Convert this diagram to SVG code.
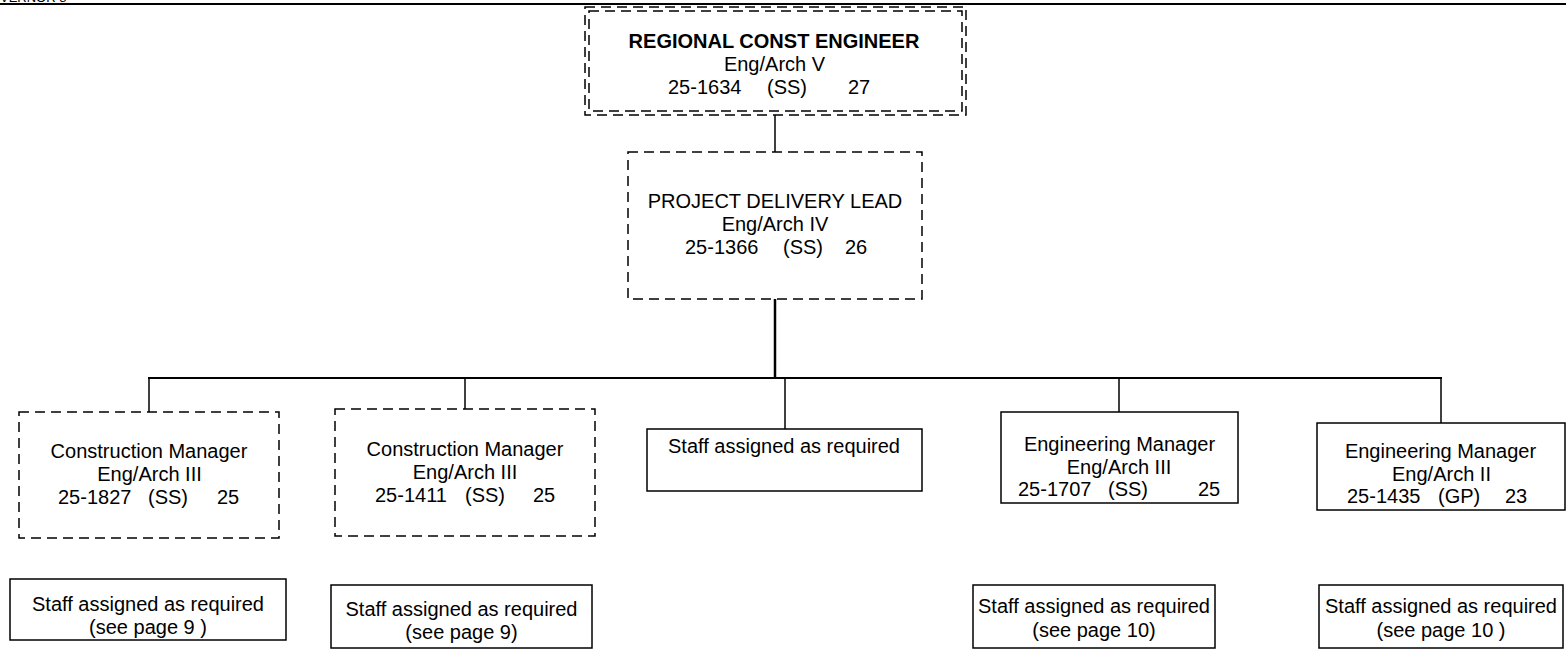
<svg xmlns="http://www.w3.org/2000/svg" width="1566" height="649" viewBox="0 0 1566 649">
<style>
text{font-family:"Liberation Sans",Arial,sans-serif;font-size:20px;fill:#000}
.b{font-weight:bold}
.m{text-anchor:middle}
.dash{fill:#fff;stroke:#000;stroke-width:1.5;stroke-dasharray:10 6}
.solid{fill:#fff;stroke:#000;stroke-width:1.5}
.conn{stroke:#000;fill:none}
</style>
<rect width="1566" height="649" fill="#fff"/>
<text x="0" y="2" style="font-size:13px">VERNOR 8</text>
<line x1="0" y1="4" x2="1566" y2="4" stroke="#000" stroke-width="2"/>
<g id="connectors">
<line class="conn" x1="775" y1="115" x2="775" y2="152" stroke-width="1.5"/>
<line class="conn" x1="775" y1="299" x2="775" y2="378" stroke-width="2.5"/>
<line class="conn" x1="148" y1="378" x2="1442" y2="378" stroke-width="2"/>
<line class="conn" x1="149" y1="378" x2="149" y2="412" stroke-width="1.5"/>
<line class="conn" x1="465" y1="378" x2="465" y2="409" stroke-width="1.5"/>
<line class="conn" x1="785" y1="378" x2="785" y2="429" stroke-width="1.5"/>
<line class="conn" x1="1119" y1="378" x2="1119" y2="412" stroke-width="1.5"/>
<line class="conn" x1="1441" y1="378" x2="1441" y2="423" stroke-width="1.5"/>
</g>
<g id="regional-const-engineer">
<rect class="dash" x="585" y="7" width="381" height="108"/>
<rect class="dash" x="589" y="11" width="373" height="100" fill="none"/>
<text class="b m" x="774" y="48">REGIONAL CONST ENGINEER</text>
<text class="m" x="774.5" y="71">Eng/Arch V</text>
<text y="94"><tspan x="668">25-1634</tspan><tspan x="767">(SS)</tspan><tspan x="848">27</tspan></text>
</g>
<g id="project-delivery-lead">
<rect class="dash" x="628" y="152" width="294" height="147"/>
<text class="m" x="775" y="208">PROJECT DELIVERY LEAD</text>
<text class="m" x="775" y="231">Eng/Arch IV</text>
<text y="254"><tspan x="685">25-1366</tspan><tspan x="783">(SS)</tspan><tspan x="845">26</tspan></text>
</g>
<g id="construction-manager-1827">
<rect class="dash" x="19" y="412" width="260" height="126"/>
<text class="m" x="149" y="458">Construction Manager</text>
<text class="m" x="149.5" y="481">Eng/Arch III</text>
<text y="504"><tspan x="58">25-1827</tspan><tspan x="148">(SS)</tspan><tspan x="217">25</tspan></text>
</g>
<g id="construction-manager-1411">
<rect class="dash" x="335" y="409" width="260" height="127"/>
<text class="m" x="465" y="456">Construction Manager</text>
<text class="m" x="465" y="479">Eng/Arch III</text>
<text y="502"><tspan x="375">25-1411</tspan><tspan x="465">(SS)</tspan><tspan x="533">25</tspan></text>
</g>
<g id="staff-assigned">
<rect class="solid" x="647" y="429" width="275" height="62"/>
<text class="m" x="784" y="453">Staff assigned as required</text>
</g>
<g id="engineering-manager-1707">
<rect class="solid" x="1001" y="412" width="237" height="91"/>
<text class="m" x="1119.5" y="451">Engineering Manager</text>
<text class="m" x="1119" y="474">Eng/Arch III</text>
<text y="496"><tspan x="1018">25-1707</tspan><tspan x="1108">(SS)</tspan><tspan x="1198">25</tspan></text>
</g>
<g id="engineering-manager-1435">
<rect class="solid" x="1317" y="423" width="248" height="87"/>
<text class="m" x="1440.5" y="458">Engineering Manager</text>
<text class="m" x="1441.5" y="481">Eng/Arch II</text>
<text y="503"><tspan x="1347">25-1435</tspan><tspan x="1438">(GP)</tspan><tspan x="1505">23</tspan></text>
</g>
<g id="staff-page9-a">
<rect class="solid" x="10" y="579" width="276" height="61"/>
<text class="m" x="148" y="611">Staff assigned as required</text>
<text class="m" x="148" y="634">(see page 9 )</text>
</g>
<g id="staff-page9-b">
<rect class="solid" x="331" y="585" width="261" height="63"/>
<text class="m" x="461.5" y="616">Staff assigned as required</text>
<text class="m" x="461.5" y="639">(see page 9)</text>
</g>
<g id="staff-page10-a">
<rect class="solid" x="973" y="585" width="242" height="63"/>
<text class="m" x="1094" y="613">Staff assigned as required</text>
<text class="m" x="1094" y="637">(see page 10)</text>
</g>
<g id="staff-page10-b">
<rect class="solid" x="1319" y="585" width="244" height="63"/>
<text class="m" x="1441" y="613">Staff assigned as required</text>
<text class="m" x="1441" y="637">(see page 10 )</text>
</g>
</svg>
